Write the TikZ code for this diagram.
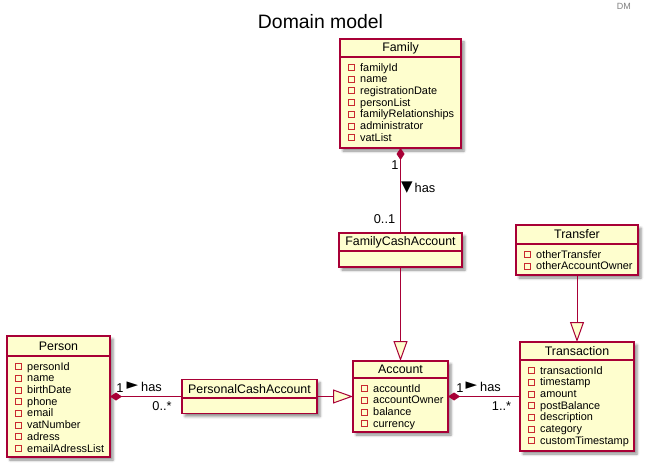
\documentclass[tikz,border=0pt]{standalone}
\usepackage{fontspec}
\setmainfont{Liberation Sans}
\newfontfamily\symfont{DejaVu Sans}
\usetikzlibrary{arrows.meta,shadows.blur}

\definecolor{umlborder}{HTML}{A80036}
\definecolor{umlfill}{HTML}{FEFECE}
\definecolor{umlicon}{HTML}{C82930}

\tikzset{
  classbox/.style={draw=umlborder, fill=umlfill, line width=1.3pt, rectangle,
    inner sep=0pt, outer sep=0pt,
    blur shadow={shadow xshift=3pt, shadow yshift=-3pt, shadow blur radius=2.5pt, shadow opacity=45}},
  classline/.style={draw=umlborder, line width=1.3pt},
  classtitle/.style={font=\fontsize{12.4}{14}\selectfont, inner sep=0pt},
  attrtext/.style={font=\fontsize{10.9}{13}\selectfont, anchor=base west, inner sep=0pt},
  iconbox/.style={draw=umlicon, line width=0.8pt},
  conn/.style={draw=umlborder, line width=1pt},
  compose/.style={conn, {Diamond[length=12pt,width=8pt,fill=umlborder]}-},
  extends/.style={conn, -{Triangle[length=20pt,width=14pt,fill=umlfill]}},
  lbl/.style={font=\fontsize{12.8}{14}\selectfont, inner sep=0pt},
  pointer/.style={font=\symfont\fontsize{15}{15}\selectfont, inner sep=0pt},
}

% class box: name, x1, y1, x2, y2, separator y, title
\newcommand\umlclass[7]{%
  \node[classbox, minimum width={#4-#2}, minimum height={#5-#3}] (#1) at ({(#2+#4)/2},{(#3+#5)/2}) {};
  \draw[classline] (#2,#6) -- (#4,#6);
  \node[classtitle] (#1-title) at ({(#2+#4)/2},{(#3+#6)/2}) {#7};
}
% private attributes: name, x1, separator y, list
\newcommand\umlattrs[4]{%
  \foreach \attr [count=\k] in {#4} {
    \pgfmathsetmacro\yy{#3+10.5+(\k-1)*11.7}
    \draw[iconbox] (#2+8,\yy-3) rectangle (#2+14,\yy+3);
    \node[attrtext] (#1-a\k) at (#2+20,\yy+3.6) {\attr};
  }
}

\begin{document}
\begin{tikzpicture}[x=1pt, y=-1pt]
  \useasboundingbox (0,0) rectangle (652,470);

  \node[font=\fontsize{19.4}{22}\selectfont, inner sep=0pt] (title) at (320.5,22) {Domain model};
  \node[anchor=east, font=\fontsize{9}{10}\selectfont, text=gray, inner sep=0pt] (dm) at (631,6) {DM};

  % classes
  \umlclass{family}{340}{39}{461}{148}{57}{Family}
  \umlattrs{family}{340}{57}{familyId,name,registrationDate,personList,familyRelationships,administrator,vatList}

  \umlclass{fca}{339}{233}{462}{267}{251}{FamilyCashAccount}

  \umlclass{transfer}{516}{225}{638}{275}{244}{Transfer}
  \umlattrs{transfer}{516}{244}{otherTransfer,otherAccountOwner}

  \umlclass{person}{7}{336}{110}{457}{356}{Person}
  \umlattrs{person}{7}{356}{personId,name,birthDate,phone,email,vatNumber,adress,emailAdressList}

  \umlclass{pca}{182}{379.5}{317}{413.5}{398}{PersonalCashAccount}

  \umlclass{account}{353}{361}{448}{432}{378}{Account}
  \umlattrs{account}{353}{378}{accountId,accountOwner,balance,currency}

  \umlclass{transaction}{520}{342}{634}{451}{360}{Transaction}
  \umlattrs{transaction}{520}{360}{transactionId,timestamp,amount,postBalance,description,category,customTimestamp}

  % relations
  \draw[compose] (family.south) -- (fca.north);
  \draw[extends] (fca.south) -- (account.north);
  \draw[extends] (transfer.south) -- (transaction.north);
  \draw[compose] (person.east) -- (pca.west);
  \draw[extends] (pca.east) -- (account.west);
  \draw[compose] (account.east) -- (transaction.west);

  % multiplicities and role labels
  \node[lbl] (fam-m1) at (395,165) {1};
  \node[lbl] (fam-m2) at (384.5,219) {0..1};
  \node[pointer] (fam-dir) at (407,188) {▼};
  \node[lbl, anchor=west] (fam-has) at (414.5,188) {has};

  \node[lbl] (per-m1) at (120,388) {1};
  \node[pointer] (per-dir) at (132.5,386) {►};
  \node[lbl, anchor=west] (per-has) at (141,387) {has};
  \node[lbl] (per-m2) at (162,406) {0..*};

  \node[lbl] (acc-m1) at (460,388) {1};
  \node[pointer] (acc-dir) at (471.5,386) {►};
  \node[lbl, anchor=west] (acc-has) at (480,387) {has};
  \node[lbl] (acc-m2) at (501.5,406) {1..*};
\end{tikzpicture}
\end{document}
